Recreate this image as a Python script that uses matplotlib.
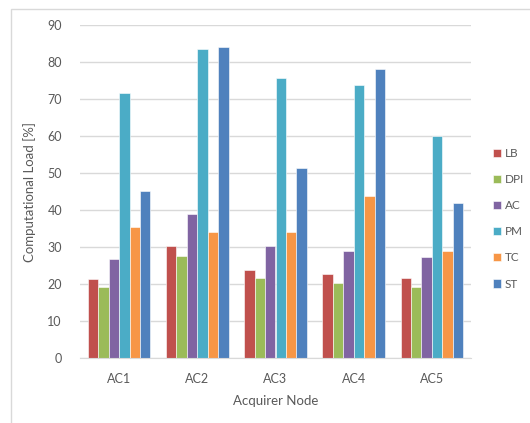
import matplotlib
matplotlib.use("Agg")
import matplotlib.pyplot as plt
import numpy as np
from matplotlib.patches import Rectangle

plt.rcParams['font.family'] = ['Lato', 'DejaVu Sans']

nodes = ["AC1", "AC2", "AC3", "AC4", "AC5"]
series = ["LB", "DPI", "AC", "PM", "TC", "ST"]
lb = [21.3, 30.4, 23.8, 22.8, 21.5]
dpi = [19.1, 27.6, 21.5, 20.4, 19.3]
ac = [26.8, 38.9, 30.2, 28.9, 27.2]
pm = [71.7, 83.5, 75.7, 73.7, 59.9]
tc = [35.3, 34.0, 34.0, 43.9, 28.9]
st = [45.0, 84.0, 51.3, 78.1, 42.0]
yticks = [0, 10, 20, 30, 40, 50, 60, 70, 80, 90]

colors = ["#C0504D", "#9BBB59", "#8064A2", "#4BACC6", "#F79646", "#4F81BD"]
text_gray = "#595959"
grid_gray = "#D9D9D9"

fig = plt.figure(figsize=(5.30, 4.23), dpi=100)
# chart frame, partly cut off at the right and bottom
fig.patches.append(Rectangle((11 / 530, -0.05), 1.2, 1 - 9 / 423 + 0.05,
                             transform=fig.transFigure, fill=False,
                             edgecolor=grid_gray, linewidth=1.0))

ax = fig.add_axes([80 / 530, 1 - 358 / 423, (471 - 80) / 530, (358 - 25) / 423])

x = np.arange(len(nodes))
width = 0.8 / len(series)
values = [lb, dpi, ac, pm, tc, st]
for i, (name, vals) in enumerate(zip(series, values)):
    offs = (i - (len(series) - 1) / 2) * width
    ax.bar(x + offs, vals, width, color=colors[i], label=name,
           edgecolor="white", linewidth=0.4, zorder=3)

ax.set_xlim(-0.5, len(nodes) - 0.5)
ax.set_ylim(0, 90)
ax.set_yticks(yticks)
ax.set_xticks(x)
ax.set_xticklabels(nodes)
ax.yaxis.grid(True, color=grid_gray, linewidth=1.0, zorder=0)
for s in ["top", "right", "left"]:
    ax.spines[s].set_visible(False)
ax.spines["bottom"].set_color(grid_gray)
ax.spines["bottom"].set_zorder(4)
ax.tick_params(axis="both", length=0, labelsize=9, colors=text_gray)
ax.tick_params(axis="x", pad=11)
ax.tick_params(axis="y", pad=13)

ax.set_xlabel("Acquirer Node", fontsize=9.5, color=text_gray, labelpad=7)
ax.set_ylabel("Computational Load [%]", fontsize=9.5, color=text_gray, labelpad=8)

leg = fig.legend(loc="upper left", bbox_to_anchor=(493 / 530, 1 - 148 / 423),
                 frameon=False, fontsize=8.5, handlelength=0.7,
                 handleheight=0.7, handletextpad=0.3, labelspacing=1.28,
                 borderpad=0, borderaxespad=0)
for t in leg.get_texts():
    t.set_color(text_gray)

fig.savefig("out.png", dpi=100)
